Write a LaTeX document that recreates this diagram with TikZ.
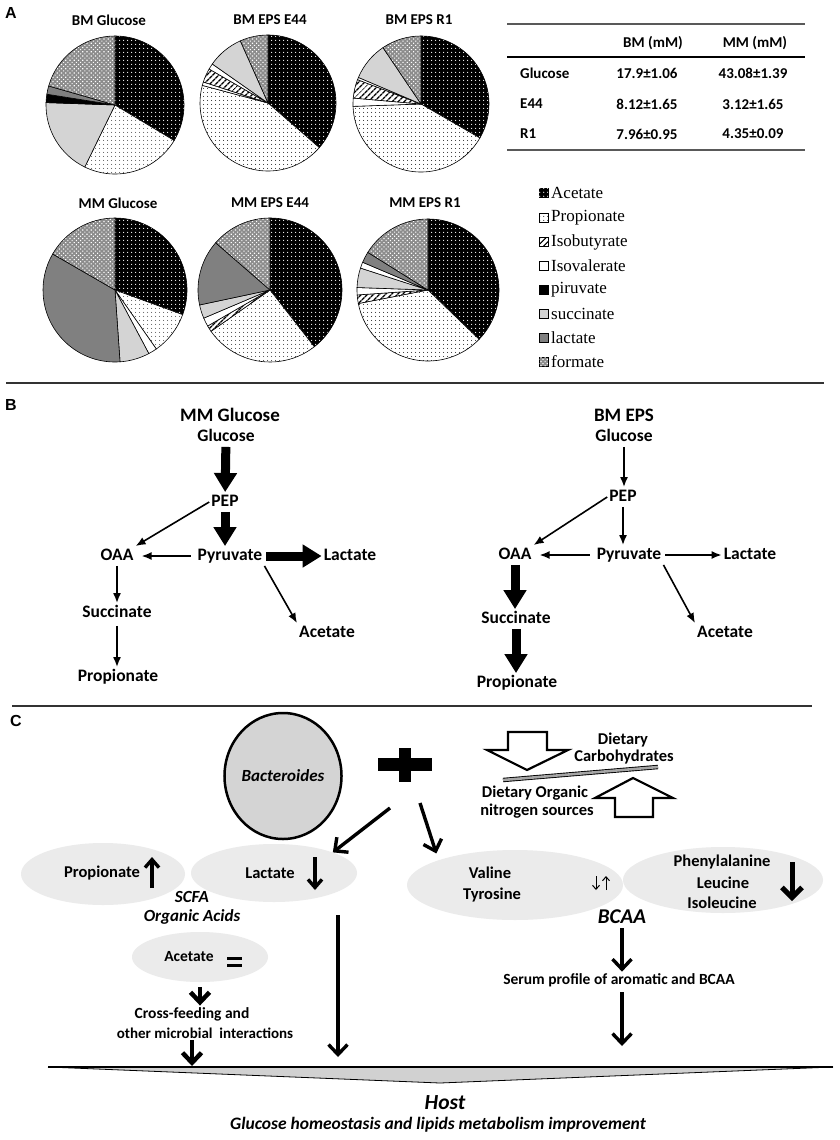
\documentclass[tikz,border=0pt]{standalone}
\usepackage{fontspec}
\setmainfont{Carlito}
\newfontfamily\legfont{Liberation Serif}
\newfontfamily\panfont{Liberation Sans}
\usetikzlibrary{arrows.meta,patterns,patterns.meta,shapes.geometric,positioning}

% fills of the pie slices
\tikzset{
  acet/.style={fill=black, postaction={pattern={Dots[distance=4pt,radius=0.75pt]}, pattern color=white}},
  prop/.style={fill=white, postaction={pattern={Dots[distance=4pt,radius=0.6pt]}, pattern color=black}},
  isob/.style={fill=white, postaction={pattern={Lines[angle=45,distance=4pt,line width=1.4pt]}, pattern color=black}},
  isov/.style={fill=white},
  piru/.style={fill=black},
  succ/.style={fill=black!17},
  lact/.style={fill=black!50},
  form/.style={fill=black!45, postaction={pattern={Dots[angle=45,distance=3pt,radius=0.8pt]}, pattern color=white}},
}

% slice: centre x, centre y, radius, from, to (degrees clockwise from top), fill
\newcommand{\slice}[6]{%
  \fill[#6] (#1,#2) -- ++({#4-90}:#3) arc[start angle={#4-90}, end angle={#5-90}, radius=#3] -- cycle;
  \draw[line width=0.6pt] (#1,#2) -- ++({#4-90}:#3) arc[start angle={#4-90}, end angle={#5-90}, radius=#3] -- cycle;}

\begin{document}
\begin{tikzpicture}[x=1pt, y=-1pt,
    panlbl/.style={font=\panfont\bfseries\fontsize{16}{18}\selectfont, inner sep=0pt},
    ttl/.style={font=\bfseries\fontsize{15}{17}\selectfont, inner sep=1pt},
    tab/.style={font=\bfseries\fontsize{15}{17}\selectfont, inner sep=1pt},
    tabrule/.style={line width=2pt, black!65},
    leg/.style={font=\legfont\fontsize{17}{19}\selectfont, inner sep=1pt, anchor=west},
    lbl/.style={font=\bfseries\fontsize{17.5}{20}\selectfont, inner sep=2pt, text height=12pt, text depth=3.5pt},
    thinarr/.style={line width=1.6pt, -{Latex[length=10pt,width=8pt]}},
    bigarr/.style={line width=9pt, -{Triangle[length=19pt,width=22pt]}},
    cbub/.style={ellipse, fill=black!8, inner sep=0pt},
    ctxt/.style={font=\bfseries\fontsize{16.5}{19}\selectfont, inner sep=1.5pt},
    citx/.style={font=\bfseries\itshape\fontsize{16.5}{19}\selectfont, inner sep=1.5pt},
    barr/.style={line width=3.4pt, -{Straight Barb[length=10pt,width=19pt]}},
    vee/.style={line width=4.5pt, -{Straight Barb[length=10pt,width=19pt]}},
    hollow/.style={line width=2.2pt, line join=miter, fill=white}]

  \fill[white] (0,0) rectangle (839,1140);
  \useasboundingbox (0,0) rectangle (839,1140);

  % ---------------- A ----------------
  \node[panlbl] (labA) at (11,13) {A};

  % Pie titles
  \node[ttl] (tBMG) at (109,20) {BM Glucose};
  \node[ttl] (tBME) at (270,20) {BM EPS E44};
  \node[ttl] (tBMR) at (419,20) {BM EPS R1};
  \node[ttl] (tMMG) at (118,203) {MM Glucose};
  \node[ttl] (tMME) at (270,203) {MM EPS E44};
  \node[ttl] (tMMR) at (425,203) {MM EPS R1};

  % BM Glucose
  \slice{115}{105}{69}{0}{121}{acet}
  \slice{115}{105}{69}{121}{206}{prop}
  \slice{115}{105}{69}{206}{272}{succ}
  \slice{115}{105}{69}{272}{279}{piru}
  \slice{115}{105}{69}{279}{286}{lact}
  \slice{115}{105}{69}{286}{360}{form}

  % BM EPS E44
  \slice{268}{103}{68}{0}{131}{acet}
  \slice{268}{103}{68}{131}{285}{prop}
  \slice{268}{103}{68}{285}{288}{isov}
  \slice{268}{103}{68}{288}{300}{isob}
  \slice{268}{103}{68}{300}{305}{isov}
  \slice{268}{103}{68}{305}{336}{succ}
  \slice{268}{103}{68}{336}{360}{form}

  % BM EPS R1
  \slice{421}{104}{68}{0}{120}{acet}
  \slice{421}{104}{68}{120}{268}{prop}
  \slice{421}{104}{68}{268}{275}{isov}
  \slice{421}{104}{68}{275}{291}{isob}
  \slice{421}{104}{68}{291}{293}{isov}
  \slice{421}{104}{68}{293}{326}{succ}
  \slice{421}{104}{68}{326}{360}{form}

  % MM Glucose
  \slice{115}{290}{72}{0}{110}{acet}
  \slice{115}{290}{72}{110}{145}{prop}
  \slice{115}{290}{72}{145}{152}{isov}
  \slice{115}{290}{72}{152}{176}{succ}
  \slice{115}{290}{72}{176}{300}{lact}
  \slice{115}{290}{72}{300}{360}{form}

  % MM EPS E44
  \slice{270}{290}{72}{0}{142}{acet}
  \slice{270}{290}{72}{142}{235}{prop}
  \slice{270}{290}{72}{235}{240}{isob}
  \slice{270}{290}{72}{240}{247}{isov}
  \slice{270}{290}{72}{247}{258}{succ}
  \slice{270}{290}{72}{258}{311}{lact}
  \slice{270}{290}{72}{311}{360}{form}

  % MM EPS R1
  \slice{428}{290}{71}{0}{134}{acet}
  \slice{428}{290}{71}{134}{259}{prop}
  \slice{428}{290}{71}{259}{266}{isob}
  \slice{428}{290}{71}{266}{272}{isov}
  \slice{428}{290}{71}{272}{288}{succ}
  \slice{428}{290}{71}{288}{293}{isov}
  \slice{428}{290}{71}{293}{302}{lact}
  \slice{428}{290}{71}{302}{360}{form}

  % Table
  \draw[tabrule] (507,24) -- (805,24);
  \node[tab] (hBM) at (653,43) {BM (mM)};
  \node[tab] (hMM) at (755,43) {MM (mM)};
  \draw[line width=1.4pt] (507,57) -- (805,57);
  \node[tab, anchor=west] (rGlc) at (519,73) {Glucose};
  \node[tab] (vGlcBM) at (647,73) {17.9±1.06};
  \node[tab] (vGlcMM) at (753,73) {43.08±1.39};
  \node[tab, anchor=west] (rE44) at (519,104) {E44};
  \node[tab] (vE44BM) at (647,104) {8.12±1.65};
  \node[tab] (vE44MM) at (753,104) {3.12±1.65};
  \node[tab, anchor=west] (rR1) at (519,134) {R1};
  \node[tab] (vR1BM) at (647,134) {7.96±0.95};
  \node[tab] (vR1MM) at (753,134) {4.35±0.09};
  \draw[tabrule] (507,150) -- (805,150);

  % Legend
  \filldraw[acet, draw=black, line width=0.6pt] (539,188.5) rectangle (548,197.5);
  \node[leg] (lgAce) at (550,193) {Acetate};
  \filldraw[prop, draw=black, line width=0.6pt] (539,213) rectangle (548,222);
  \node[leg] (lgPro) at (550,217.5) {Propionate};
  \filldraw[isob, draw=black, line width=0.6pt] (539,237.5) rectangle (548,246.5);
  \node[leg] (lgIsb) at (550,242) {Isobutyrate};
  \filldraw[isov, draw=black, line width=0.6pt] (539,261.5) rectangle (548,270.5);
  \node[leg] (lgIsv) at (550,266) {Isovalerate};
  \filldraw[piru, draw=black, line width=0.6pt] (539,285.5) rectangle (548,294.5);
  \node[leg] (lgPir) at (550,290) {piruvate};
  \filldraw[succ, draw=black, line width=0.6pt] (539,309.5) rectangle (548,318.5);
  \node[leg] (lgSuc) at (550,314) {succinate};
  \filldraw[lact, draw=black, line width=0.6pt] (539,333.5) rectangle (548,342.5);
  \node[leg] (lgLac) at (550,338) {lactate};
  \filldraw[form, draw=black, line width=0.6pt] (539,357.5) rectangle (548,366.5);
  \node[leg] (lgFor) at (550,362) {formate};

  % Separator
  \draw[line width=1.5pt, black!80] (6,383) -- (824,383);

  % ---------------- B ----------------
  \node[panlbl] (labB) at (11,405) {B};

  % MM Glucose pathway
  \node[lbl, font=\bfseries\fontsize{19}{21}\selectfont] (mmT) at (230,417) {MM Glucose};
  \node[lbl] (glcL) at (226,437) {Glucose};
  \node[lbl] (pepL) at (225,502) {PEP};
  \node[lbl] (pyrL) at (230,556) {Pyruvate};
  \node[lbl] (oaaL) at (117,556) {OAA};
  \node[lbl] (lacL) at (350,556) {Lactate};
  \node[lbl] (aceL) at (327,633) {Acetate};
  \node[lbl] (sucL) at (117,613) {Succinate};
  \node[lbl] (proL) at (118,677) {Propionate};

  \draw[bigarr] (glcL) -- (pepL);
  \draw[bigarr] (pepL) -- (pepL |- pyrL.north);
  \draw[bigarr, shorten <=2pt] (pyrL) -- (lacL);
  \draw[thinarr] (pepL.west) -- (oaaL.north east);
  \draw[thinarr, shorten <=5pt, shorten >=6pt] (pyrL.west) -- (oaaL.east);
  \draw[thinarr] (pyrL.south east) -- (aceL.north west);
  \draw[thinarr] (oaaL) -- (sucL);
  \draw[thinarr, shorten <=3pt] (sucL) -- (sucL |- proL.north);

  % BM EPS pathway
  \node[lbl, font=\bfseries\fontsize{19}{21}\selectfont] (bmT) at (624,417) {BM EPS};
  \node[lbl] (glcR) at (624,437) {Glucose};
  \node[lbl] (pepR) at (623,497) {PEP};
  \node[lbl] (pyrR) at (629,555) {Pyruvate};
  \node[lbl] (oaaR) at (515,555) {OAA};
  \node[lbl] (lacR) at (750,555) {Lactate};
  \node[lbl] (aceR) at (725,633) {Acetate};
  \node[lbl] (sucR) at (516,619) {Succinate};
  \node[lbl] (proR) at (517,683) {Propionate};

  \draw[thinarr] (glcR) -- (glcR |- pepR.north);
  \draw[thinarr] (pepR) -- (pepR |- pyrR.north);
  \draw[thinarr, shorten <=2pt] (pyrR) -- (lacR);
  \draw[thinarr] (pepR.west) -- (oaaR.north east);
  \draw[thinarr, shorten <=5pt, shorten >=6pt] (pyrR.west) -- (oaaR.east);
  \draw[thinarr] (pyrR.south east) -- (aceR.north west);
  \draw[bigarr] (oaaR) -- (oaaR |- sucR.north);
  \draw[bigarr] (sucR) -- (sucR |- proR.north);

  % Separator
  \draw[line width=1.5pt, black!80] (12,706) -- (812,706);

  % ---------------- C ----------------
  \node[panlbl] (labC) at (16,721) {C};

  % Bacteroides and plus
  \node[ellipse, draw, line width=2.5pt, fill=black!17, minimum width=108pt, minimum height=126pt,
        font=\bfseries\itshape\fontsize{17}{20}\selectfont, inner sep=0pt] (bact) at (283,776) {Bacteroides};
  \draw[line width=13pt] (378,764) -- (432,764);
  \draw[line width=12pt] (405,748) -- (405,782);
  \coordinate (plusL) at (390,808);
  \coordinate (plusR) at (420,803);

  % Diet balance
  \draw[hollow] (508,732) -- (547,732) -- (547,750) -- (568,750) -- (527,770) -- (487,750) -- (508,750) -- cycle;
  \draw[hollow] (615,817) -- (653,817) -- (653,798) -- (673,798) -- (633,778) -- (595,798) -- (615,798) -- cycle;
  \draw[line width=0.9pt, double=black!35, double distance=2.6pt] (503,780) -- (658,767);
  \node[ctxt] (diet1) at (623,740) {Dietary};
  \node[ctxt] (diet2) at (624,757) {Carbohydrates};
  \node[ctxt] (org1) at (535,793) {Dietary Organic};
  \node[ctxt] (org2) at (537,811) {nitrogen sources};

  % Bubbles
  \node[cbub, minimum width=164pt, minimum height=62pt] (propE) at (103,874) {};
  \node[cbub, minimum width=166pt, minimum height=58pt] (lacE) at (274,873) {};
  \node[cbub, minimum width=136pt, minimum height=50pt] (aceE) at (200,957) {};
  \node[cbub, minimum width=216pt, minimum height=70pt] (valE) at (515,885) {};
  \node[cbub, minimum width=200pt, minimum height=66pt] (pheE) at (723,880) {};

  \draw[barr] (plusL) -- (lacE.north east);
  \draw[barr, shorten >=7pt] (plusR) -- (valE.north west);

  % Organic acids
  \node[ctxt] (propT) at (102,873) {Propionate};
  \draw[line width=3.4pt, -{Straight Barb[length=8pt,width=14pt]}] (152,888) -- (152,857);
  \node[ctxt] (lacT) at (270,873) {Lactate};
  \draw[line width=3.4pt, -{Straight Barb[length=8pt,width=14pt]}] (315,857) -- (315,890);
  \node[font=\bfseries\itshape\fontsize{17}{19}\selectfont, inner sep=1pt] (scfa) at (192,897) {SCFA};
  \node[citx, font=\bfseries\itshape\fontsize{17}{19}\selectfont] (orgac) at (192,917) {Organic Acids};
  \node[ctxt, font=\bfseries\fontsize{15.5}{18}\selectfont] (aceT) at (189,957) {Acetate};
  \draw[line width=3pt] (227,958) -- (242,958);
  \draw[line width=3pt] (227,965.5) -- (242,965.5);
  \node[ctxt, font=\bfseries\fontsize{15.5}{18}\selectfont] (cf1) at (192,1014) {Cross-feeding and};
  \node[ctxt, font=\bfseries\fontsize{15}{18}\selectfont] (cf2) at (205,1033) {other microbial\ \ interactions};

  % Amino acids
  \node[ctxt] (valT) at (490,873) {Valine};
  \node[ctxt] (tyrT) at (492,895) {Tyrosine};
  \draw[line width=1pt, -{Straight Barb[length=4pt,width=7pt]}] (596,876) -- (596,890);
  \draw[line width=1pt, -{Straight Barb[length=4pt,width=7pt]}] (606,890) -- (606,876);
  \node[ctxt] (pheT) at (722,862) {Phenylalanine};
  \node[ctxt] (leuT) at (723,883) {Leucine};
  \node[ctxt] (ileT) at (722,903) {Isoleucine};
  \draw[line width=5pt, -{Straight Barb[length=10pt,width=20pt]}] (792,862) -- (792,901);
  \node[font=\bfseries\itshape\fontsize{21}{24}\selectfont, inner sep=1pt] (bcaa) at (622,917) {BCAA};
  \node[ctxt, font=\bfseries\fontsize{15.5}{18}\selectfont] (serum) at (619,980) {Serum profile of aromatic and BCAA};

  % Host
  \coordinate (hostL) at (48,1067);
  \coordinate (hostR) at (833,1067);
  \coordinate (hostTip) at (440,1083);
  \coordinate (hostA) at (192,1066);
  \coordinate (hostB) at (338,1057);
  \coordinate (hostC) at (622,1046);
  \fill[black!18] (hostL) -- (hostR) -- (hostTip) -- cycle;
  \draw[line width=0.8pt] (hostL) -- (hostTip) -- (hostR);
  \draw[line width=2.6pt] (hostL) -- (hostR);

  \draw[vee, shorten <=5pt] (aceE.south) -- (cf1.north -| aceE.south);
  \draw[vee] (cf2.south -| hostA) -- (hostA);
  \draw[barr, shorten <=13pt] (hostB |- lacE.south) -- (hostB);
  \draw[barr, shorten <=3pt] (bcaa.south -| hostC) -- (serum.north -| hostC);
  \draw[barr, shorten <=4pt] (serum.south -| hostC) -- (hostC);

  \node[font=\bfseries\itshape\fontsize{21.5}{24}\selectfont, inner sep=1pt] (host) at (445,1103) {Host};
  \node[citx, font=\bfseries\itshape\fontsize{17.5}{20}\selectfont] (hostT) at (438,1125) {Glucose homeostasis and lipids metabolism improvement};
\end{tikzpicture}
\end{document}
